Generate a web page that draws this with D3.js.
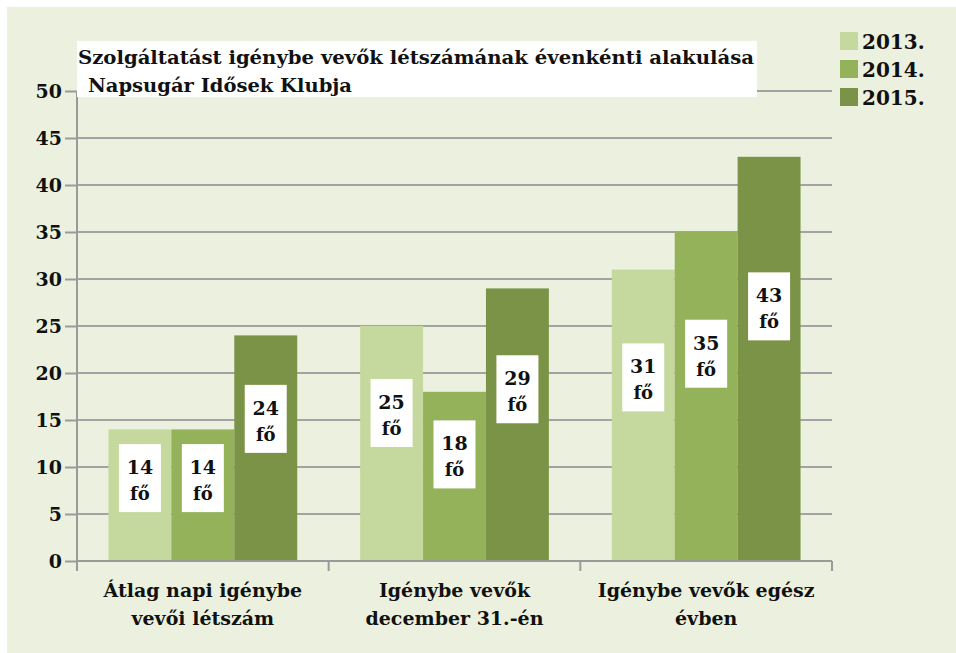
<!DOCTYPE html>
<html>
<head>
<meta charset="utf-8">
<script src="https://cdn.jsdelivr.net/npm/d3@7"></script>
<style>
  body { margin: 0; background: #fff; }
  svg text { font-family: "DejaVu Serif", serif; font-weight: bold; fill: #111; }
</style>
</head>
<body>
<div id="chart"></div>
<script>
// chart data
var categories = [['Átlag napi igénybe', 'vevői létszám'], ['Igénybe vevők', 'december 31.-én'], ['Igénybe vevők egész', 'évben']]
var years = ['2013.', '2014.', '2015.']
var values2013 = [14, 25, 31]
var values2014 = [14, 18, 35]
var values2015 = [24, 29, 43]
var yTicks = [0, 5, 10, 15, 20, 25, 30, 35, 40, 45, 50]
var titleLines = ['Szolgáltatást igénybe vevők létszámának évenkénti alakulása', 'Napsugár Idősek Klubja']
var unitLabel = 'fő'
var colors = ['#c5d89d', '#94b25a', '#7a9346']

var width = 956
var height = 653
var margin = { top: 91, bottom: 92, left: 77, right: 124 }

var svg = d3.select('#chart')
  .append('svg')
  .attr('width', width)
  .attr('height', height)

// background
svg.append('rect')
  .attr('x', 7).attr('y', 7)
  .attr('width', width - 7).attr('height', height - 7)
  .attr('fill', '#ebf1de')

var series = [values2013, values2014, values2015]
var catKeys = categories.map((c, i) => i)

var x0 = d3.scaleBand()
  .domain(catKeys)
  .range([margin.left, width - margin.right])
  .paddingInner(0).paddingOuter(0)

var x1 = d3.scaleBand()
  .domain(years)
  .range([0, x0.bandwidth()])
  .paddingInner(0).paddingOuter(0.5)

var y = d3.scaleLinear()
  .domain([0, 50])
  .range([height - margin.bottom, margin.top])

// gridlines
svg.append('g')
  .selectAll('line')
  .data(yTicks.filter(d => d > 0))
  .enter()
  .append('line')
  .attr('x1', margin.left).attr('x2', width - margin.right)
  .attr('y1', d => y(d)).attr('y2', d => y(d))
  .attr('stroke', '#a3a3a3')
  .attr('stroke-width', 2)

// bars
var bars = []
catKeys.forEach(c => {
  years.forEach((yr, j) => {
    bars.push({ cat: c, year: yr, idx: j, value: series[j][c] })
  })
})

svg.append('g')
  .selectAll('rect')
  .data(bars)
  .enter()
  .append('rect')
  .attr('x', d => x0(d.cat) + x1(d.year))
  .attr('y', d => y(d.value))
  .attr('width', x1.bandwidth())
  .attr('height', d => y(0) - y(d.value))
  .attr('fill', d => colors[d.idx])

// y axis
var yAxis = svg.append('g')
  .attr('transform', 'translate(' + margin.left + ',0)')
  .call(d3.axisLeft(y).tickValues(yTicks).tickSize(12).tickPadding(3))
yAxis.select('.domain').remove()
yAxis.selectAll('line').attr('stroke', '#9a9a9a').attr('stroke-width', 2)
yAxis.selectAll('text').attr('font-size', '19px').style('font-family', '"DejaVu Serif", serif').style('font-weight', 'bold').attr('fill', '#1a1a1a')

svg.append('line')
  .attr('x1', margin.left).attr('x2', margin.left)
  .attr('y1', y(50)).attr('y2', y(0) + 10)
  .attr('stroke', '#9a9a9a').attr('stroke-width', 2)

// x baseline and category ticks
svg.append('line')
  .attr('x1', margin.left).attr('x2', width - margin.right)
  .attr('y1', y(0)).attr('y2', y(0))
  .attr('stroke', '#9a9a9a').attr('stroke-width', 2)

var bounds = catKeys.map(c => x0(c)).concat([x0(catKeys[catKeys.length - 1]) + x0.bandwidth()])
svg.append('g')
  .selectAll('line')
  .data(bounds)
  .enter()
  .append('line')
  .attr('x1', d => d).attr('x2', d => d)
  .attr('y1', y(0)).attr('y2', y(0) + 10)
  .attr('stroke', '#9a9a9a').attr('stroke-width', 2)

// category labels
svg.append('g')
  .selectAll('text')
  .data(catKeys)
  .enter()
  .append('text')
  .attr('x', d => x0(d) + x0.bandwidth() / 2)
  .attr('y', y(0) + 36)
  .attr('text-anchor', 'middle')
  .attr('font-size', '19px')
  .each(function (d) {
    d3.select(this).selectAll('tspan')
      .data(categories[d])
      .enter()
      .append('tspan')
      .attr('x', x0(d) + x0.bandwidth() / 2)
      .attr('dy', (t, i) => i === 0 ? 0 : 28)
      .text(t => t)
  })

// value labels in white boxes
var boxW = 42, boxH = 68
var labels = svg.append('g')
  .selectAll('g')
  .data(bars)
  .enter()
  .append('g')
  .attr('transform', d => 'translate(' + (x0(d.cat) + x1(d.year) + x1.bandwidth() / 2) + ',' + y(d.value * 0.63) + ')')

labels.append('rect')
  .attr('x', -boxW / 2).attr('y', -boxH / 2)
  .attr('width', boxW).attr('height', boxH)
  .attr('fill', '#fff')

labels.append('text')
  .attr('text-anchor', 'middle')
  .attr('y', -4)
  .attr('font-size', '19px')
  .text(d => d.value)

labels.append('text')
  .attr('text-anchor', 'middle')
  .attr('y', 22)
  .attr('font-size', '18px')
  .text(unitLabel)

// title box
svg.append('rect')
  .attr('x', 77).attr('y', 41)
  .attr('width', 680).attr('height', 56)
  .attr('fill', '#fff')

svg.append('text')
  .attr('x', 78).attr('y', 64)
  .attr('font-size', '18px')
  .attr('textLength', 676)
  .attr('lengthAdjust', 'spacingAndGlyphs')
  .text(titleLines[0])

svg.append('text')
  .attr('x', 88).attr('y', 92)
  .attr('font-size', '18px')
  .attr('textLength', 264)
  .attr('lengthAdjust', 'spacingAndGlyphs')
  .text(titleLines[1])

// legend
var legend = svg.append('g')
svg.append('rect')
  .attr('x', 839).attr('y', 27)
  .attr('width', 97).attr('height', 101)
  .attr('fill', '#fff')
  .lower()
legend.selectAll('rect')
  .data(years)
  .enter()
  .append('rect')
  .attr('x', 840)
  .attr('y', (d, i) => 32 + i * 28)
  .attr('width', 18).attr('height', 18)
  .attr('fill', (d, i) => colors[i])
legend.selectAll('text')
  .data(years)
  .enter()
  .append('text')
  .attr('x', 862)
  .attr('y', (d, i) => 49 + i * 28)
  .attr('font-size', '20px')
  .text(d => d)
</script>
</body>
</html>
